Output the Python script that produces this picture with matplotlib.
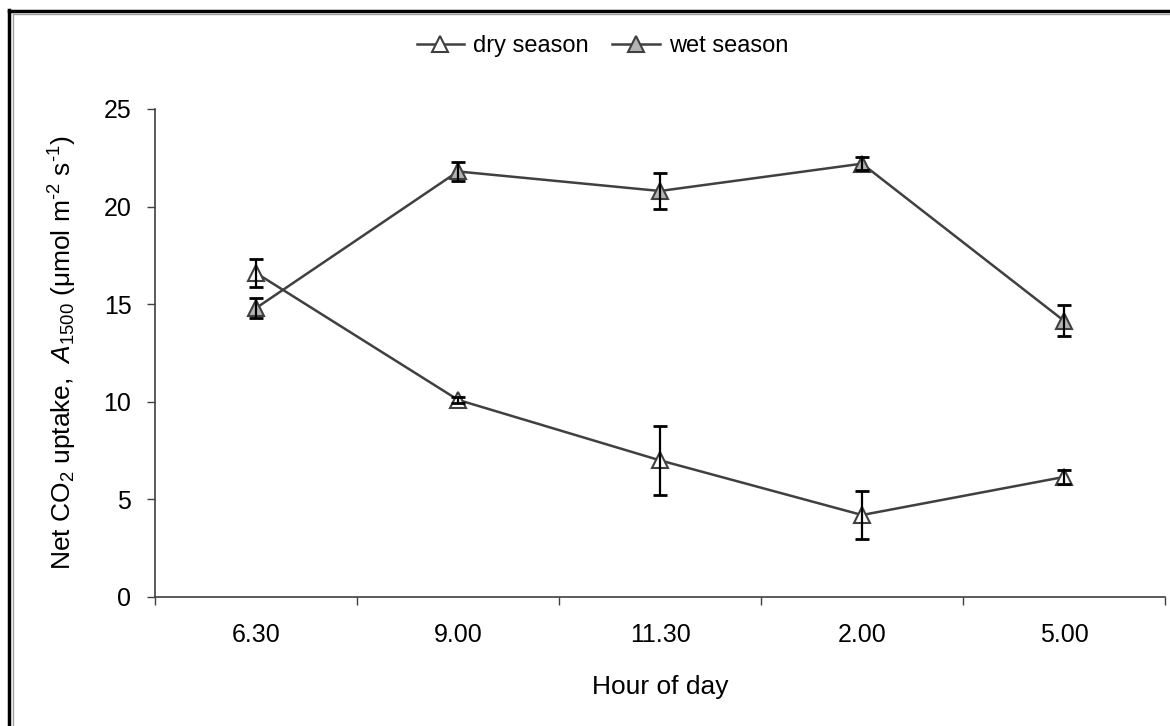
import numpy as np
import matplotlib.pyplot as plt
from matplotlib.lines import Line2D

plt.rcParams['font.family'] = ['Liberation Sans', 'DejaVu Sans']
plt.rcParams['mathtext.fontset'] = 'custom'
plt.rcParams['mathtext.rm'] = 'Liberation Sans'
plt.rcParams['mathtext.it'] = 'Liberation Sans:italic'

# ── Data ──────────────────────────────────────────────────────────────────────

hours   = ['6.30', '9.00', '11.30', '2.00', '5.00']
dry     = [16.6, 10.1, 7.0, 4.2, 6.15]
dry_err = [0.7, 0.15, 1.75, 1.25, 0.35]
wet     = [14.8, 21.8, 20.8, 22.2, 14.15]
wet_err = [0.5, 0.5, 0.9, 0.35, 0.8]

LINE = '#404040'

# ── Plot ──────────────────────────────────────────────────────────────────────

fig = plt.figure(figsize=(11.7, 7.26), dpi=100)
ax = fig.add_axes([155/1170, 1 - 597/726, 1010/1170, (597 - 109)/726])

x = np.arange(len(hours))

for vals, errs, fill, name in [(dry, dry_err, 'white', 'dry season'),
                               (wet, wet_err, '#b4b4b4', 'wet season')]:
    ax.plot(x, vals, color=LINE, lw=1.8, marker='^', ms=12,
            mfc=fill, mec=LINE, mew=1.5, zorder=3, label=name)
    ax.errorbar(x, vals, yerr=errs, fmt='none', ecolor='black',
                elinewidth=1.6, capsize=5, capthick=2, zorder=4)

ax.set_xlim(-0.5, len(hours) - 0.5)
ax.set_ylim(0, 25)
ax.set_yticks(range(0, 26, 5))
ax.set_xticks(np.arange(-0.5, len(hours)), labels=[])
ax.set_xticks(x, labels=hours, minor=True)
ax.tick_params(axis='x', which='major', direction='out', length=6,
               width=1, color=LINE)
ax.tick_params(axis='x', which='minor', length=0, pad=19, labelsize=18)
ax.tick_params(axis='y', direction='out', length=6, width=1,
               color=LINE, pad=11, labelsize=18)

for side in ('top', 'right'):
    ax.spines[side].set_visible(False)
for side in ('left', 'bottom'):
    ax.spines[side].set_color(LINE)
    ax.spines[side].set_linewidth(1.2)

ax.set_xlabel('Hour of day', fontsize=19, labelpad=20)
ax.set_ylabel(r'Net CO$_2$ uptake,  $\mathit{A}_{1500}$ ($\mathrm{\mu}$mol m$^{\text{-}2}$ s$^{\text{-}1}$)',
              fontsize=19, labelpad=18)

handles = [Line2D([], [], color=LINE, lw=1.8, marker='^', ms=11, mfc=f,
                  mec=LINE, mew=1.5) for f in ('white', '#b4b4b4')]
fig.legend(handles, ['dry season', 'wet season'], loc='center',
           bbox_to_anchor=(0.515, 1 - 46/726), ncol=2, frameon=False,
           fontsize=17, handlelength=2.0, handletextpad=0.4,
           columnspacing=1.0)

# frame lines along the top and left edge
fig.add_artist(Line2D([8.5/1170, 8.5/1170], [0, 1 - 10/726],
                      color='black', lw=2.5, transform=fig.transFigure))
fig.add_artist(Line2D([8.5/1170, 1], [1 - 10.5/726, 1 - 10.5/726],
                      color='black', lw=2.5, transform=fig.transFigure))
fig.add_artist(Line2D([12.5/1170, 12.5/1170], [0, 1 - 14/726],
                      color='#a0a0a0', lw=1, transform=fig.transFigure))
fig.add_artist(Line2D([12.5/1170, 1], [1 - 14/726, 1 - 14/726],
                      color='#a0a0a0', lw=1, transform=fig.transFigure))

fig.savefig('out.png', dpi=100)
